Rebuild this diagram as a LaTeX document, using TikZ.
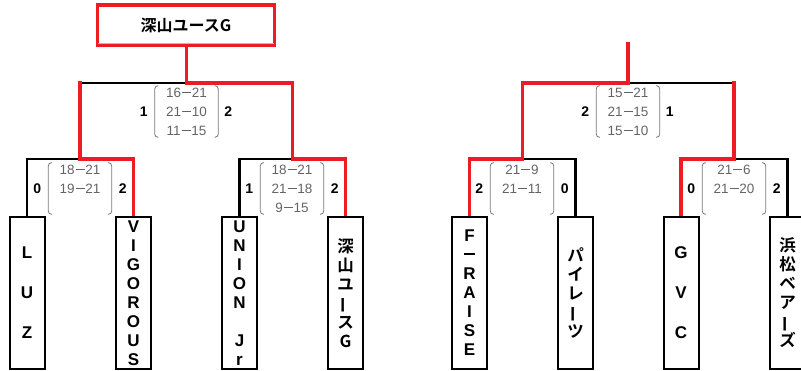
\documentclass[tikz,border=0pt]{standalone}
\usepackage{fontspec}
\usepackage{graphicx}
\setmainfont{Liberation Sans}
\newfontfamily\jp{Noto Sans CJK JP}[UprightFont={* Medium},BoldFont={* Bold}]
\definecolor{redc}{RGB}{237,28,36}
\definecolor{scg}{RGB}{100,100,100}
\definecolor{parg}{RGB}{120,120,120}
\newcommand\dsh{\hspace{0.9pt}\rule[4.6pt]{9pt}{1pt}\hspace{0.9pt}}
\newcommand\vbar{\rotatebox[origin=c]{90}{ー}}
\newcommand\hdash{\rule[5.5pt]{11pt}{2pt}}
\pgfdeclarelayer{bg}
\pgfsetlayers{bg,main}
\begin{document}
\begin{tikzpicture}[x=1pt,y=-1pt,
  team/.style={draw=black,line width=2pt,minimum width=35pt,minimum height=152pt,
    inner sep=0pt,align=center,font=\bfseries\fontsize{17}{19}\selectfont},
  jteam/.style={team,font=\jp\bfseries\fontsize{16.5}{19}\selectfont},
  champbox/.style={draw=redc,line width=3.2pt,minimum width=177pt,minimum height=40pt,
    inner sep=0pt,font=\jp\bfseries\fontsize{16}{18}\selectfont},
  score/.style={text=scg,font=\fontsize{13.5}{19}\selectfont,align=center,inner sep=0pt,
    minimum width=63pt,minimum height=51pt},
  paren/.style={draw=parg,line width=0.8pt,rounded corners=3pt},
  num/.style={font=\bfseries\fontsize{14}{16}\selectfont,inner sep=0pt},
  blk/.style={draw=black,line width=2.2pt},
  rd/.style={draw=redc,line width=3.4pt,line cap=rect}]
\useasboundingbox (0,0) rectangle (801,371);
\clip (0,0) rectangle (801,371);

% champion
\node[champbox] (champ) at (186,25) {深山ユースG};
\draw[gray!55,line width=0.6pt] ([xshift=2.5pt,yshift=3pt]champ.south west) -- ([xshift=-2.5pt,yshift=3pt]champ.south east);

% teams
\node[team] (luz) at (27,293) {L\\[21pt]U\\[21pt]Z};
\node[team] (vig) at (133.5,293) {V\\I\\G\\O\\R\\O\\U\\S};
\node[team] (uni) at (239.5,293) {U\\N\\I\\O\\N\\[19pt]J\\r};
\node[jteam] (shin) at (345.5,293) {深\\山\\ユ\\\vbar\\ス\\G};
\node[team] (fr) at (469.5,293) {F\\\hdash\\R\\A\\I\\S\\E};
\node[jteam] (pai) at (575.5,293) {パ\\イ\\レ\\\vbar\\ツ};
\node[team] (gvc) at (681,293) {G\\[21pt]V\\[21pt]C};
\node[jteam] (hama) at (787.5,293) {浜\\松\\ベ\\ア\\\vbar\\ズ};

% junction coordinates
\coordinate (m1) at (80,159);
\coordinate (m2) at (292.5,159);
\coordinate (a) at (80,83);
\coordinate (b) at (292.5,83);
\coordinate (s1) at (186.5,83);
\coordinate (m3) at (522.5,159);
\coordinate (m4) at (734,159);
\coordinate (c) at (522.5,83);
\coordinate (d) at (734,83);
\coordinate (s2) at (628,83);
\coordinate (f2) at (628,44);

\begin{pgfonlayer}{bg}
\draw[blk] (luz.north) |- (m1);
\draw[blk] (uni.north) |- (m2);
\draw[blk] (a) -- (s1);
\draw[blk] (pai.north) |- (m3);
\draw[blk] (hama.north) |- (m4);
\draw[blk] (d) -- (s2);
\draw[rd] (vig.north) |- (m1) -- (a);
\draw[rd] (shin.north) |- (m2) -- (b) -- (s1) -- (s1 |- champ.south);
\draw[rd] (fr.north) |- (m3) -- (c) -- (s2) -- (f2);
\draw[rd] (gvc.north) |- (m4) -- (d);
\end{pgfonlayer}

% scores
\node[score] (sc1) at (186.5,111.5) {16\dsh21\\21\dsh10\\11\dsh15};
\node[score] (sc2) at (80,188.5) {18\dsh21\\19\dsh21\\~};
\node[score] (sc3) at (292,188.5) {18\dsh21\\21\dsh18\\9\dsh15};
\node[score] (sc4) at (628,111.5) {15\dsh21\\21\dsh15\\15\dsh10};
\node[score] (sc5) at (522,188.5) {21\dsh9\\21\dsh11\\~};
\node[score] (sc6) at (734,188.5) {21\dsh6\\21\dsh20\\~};
\foreach \n in {sc1,sc2,sc3,sc4,sc5,sc6}{
  \draw[paren] ([xshift=3.5pt]\n.north west) -- (\n.north west) -- (\n.south west) -- ([xshift=3.5pt]\n.south west);
  \draw[paren] ([xshift=-3.5pt]\n.north east) -- (\n.north east) -- (\n.south east) -- ([xshift=-3.5pt]\n.south east);
}

% set counts
\node[num] (n1l) at ([xshift=-11pt]sc1.west) {1};
\node[num] (n1r) at ([xshift=10pt]sc1.east) {2};
\node[num] (n2l) at ([xshift=-11pt]sc2.west) {0};
\node[num] (n2r) at ([xshift=11pt]sc2.east) {2};
\node[num] (n3l) at ([xshift=-11pt]sc3.west) {1};
\node[num] (n3r) at ([xshift=11pt]sc3.east) {2};
\node[num] (n4l) at ([xshift=-11pt]sc4.west) {2};
\node[num] (n4r) at ([xshift=10pt]sc4.east) {1};
\node[num] (n5l) at ([xshift=-11pt]sc5.west) {2};
\node[num] (n5r) at ([xshift=11pt]sc5.east) {0};
\node[num] (n6l) at ([xshift=-11pt]sc6.west) {0};
\node[num] (n6r) at ([xshift=11pt]sc6.east) {2};
\end{tikzpicture}
\end{document}
